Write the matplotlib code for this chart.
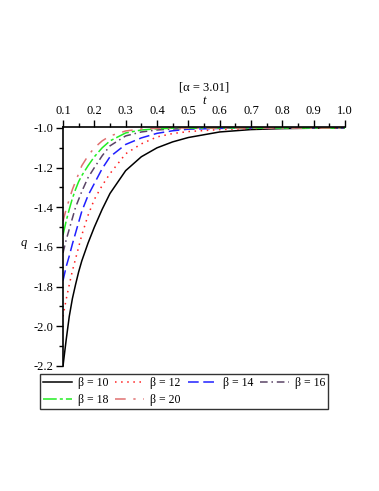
import numpy as np
import matplotlib
matplotlib.use('Agg')
import matplotlib.pyplot as plt
from matplotlib.ticker import MultipleLocator, FormatStrFormatter

plt.rcParams['font.family'] = ['Liberation Serif', 'DejaVu Serif']
plt.rcParams['axes.unicode_minus'] = True

# values
t = [0.1, 0.11, 0.12, 0.13, 0.14, 0.15, 0.16, 0.18, 0.2, 0.225, 0.25, 0.3, 0.35, 0.4, 0.45, 0.5, 0.6, 0.7, 0.8, 0.9, 1.0]
q_b10 = [-2.20, -2.07, -1.95, -1.86, -1.79, -1.725, -1.67, -1.58, -1.50, -1.41, -1.33, -1.215, -1.145, -1.10, -1.07, -1.048, -1.02, -1.008, -1.003, -1.001, -1.0]
q_b12 = [-1.95, -1.865, -1.79, -1.72, -1.66, -1.60, -1.54, -1.44, -1.36, -1.29, -1.23, -1.13, -1.08, -1.045, -1.028, -1.018, -1.008, -1.003, -1.001, -1.0, -1.0]
q_b14 = [-1.77, -1.70, -1.645, -1.585, -1.53, -1.475, -1.42, -1.34, -1.28, -1.205, -1.145, -1.083, -1.05, -1.027, -1.014, -1.006, -1.002, -1.0, -1.0, -1.0, -1.0]
q_b16 = [-1.63, -1.565, -1.51, -1.455, -1.40, -1.36, -1.32, -1.25, -1.20, -1.14, -1.09, -1.04, -1.02, -1.01, -1.005, -1.002, -1.0, -1.0, -1.0, -1.0, -1.0]
q_b18 = [-1.54, -1.47, -1.41, -1.355, -1.31, -1.27, -1.24, -1.19, -1.145, -1.10, -1.065, -1.025, -1.01, -1.004, -1.001, -1.0, -1.0, -1.0, -1.0, -1.0, -1.0]
q_b20 = [-1.47, -1.41, -1.36, -1.31, -1.27, -1.23, -1.19, -1.14, -1.10, -1.065, -1.04, -1.015, -1.005, -1.002, -1.0, -1.0, -1.0, -1.0, -1.0, -1.0, -1.0]
labels = ['β = 10', 'β = 12', 'β = 14', 'β = 16', 'β = 18', 'β = 20']

series = [q_b10, q_b12, q_b14, q_b16, q_b18, q_b20]
colors = ['#000000', '#ff2020', '#2020ff', '#5a4466', '#22ee22', '#e07070']
styles = ['-', (0, (1, 3)), (0, (7, 3)), (0, (5, 2.5, 1, 2.5)), (0, (9, 2, 2, 2)), (0, (7, 5, 1.5, 5))]

W, H = 379, 491
fig = plt.figure(figsize=(W / 100, H / 100), dpi=100)
ax = fig.add_axes([63 / W, 1 - 366 / H, 282 / W, (366 - 127) / H])

handles = []
for q, c, ls, lab in zip(series, colors, styles, labels):
    h, = ax.plot(t, q, color=c, linestyle=ls, linewidth=1.1, label=lab)
    handles.append(h)

ax.set_xlim(0.1, 1.0)
ax.set_ylim(-2.2, -0.995)

for s in ['right', 'bottom']:
    ax.spines[s].set_visible(False)
ax.spines['left'].set_linewidth(1.2)
ax.spines['top'].set_linewidth(1.2)

ax.xaxis.tick_top()
ax.xaxis.set_label_position('top')
ax.xaxis.set_major_locator(MultipleLocator(0.1))
ax.xaxis.set_minor_locator(MultipleLocator(0.05))
ax.yaxis.set_major_locator(MultipleLocator(0.2))
ax.yaxis.set_minor_locator(MultipleLocator(0.1))
ax.xaxis.set_major_formatter(FormatStrFormatter('%.1f'))
ax.yaxis.set_major_formatter(FormatStrFormatter('%.1f'))
ax.tick_params(axis='both', which='major', length=5, width=1, labelsize=9, direction='out', pad=2)
ax.tick_params(axis='both', which='minor', length=3, width=1, direction='out')

ax.set_xlabel('t', fontstyle='italic', fontsize=9, labelpad=1)
ax.set_ylabel('q', fontstyle='italic', fontsize=9, rotation=0)
ax.yaxis.set_label_coords(-0.14, 0.49)
fig.text(204 / W, 1 - 87 / H, '[α = 3.01]', fontsize=9, ha='center', va='center')

order = [0, 4, 1, 5, 2, 3]
leg = fig.legend([handles[i] for i in order], [labels[i] for i in order],
                 ncol=4, loc='upper left', bbox_to_anchor=(40 / W, 1 - 374 / H),
                 fontsize=8.5, frameon=True, fancybox=False, edgecolor='black',
                 handlelength=2.45, handletextpad=0.5, columnspacing=0.6,
                 labelspacing=0.45, borderpad=0.25, borderaxespad=0)
leg.get_frame().set_linewidth(1.0)

fig.savefig('out.png', dpi=100)
